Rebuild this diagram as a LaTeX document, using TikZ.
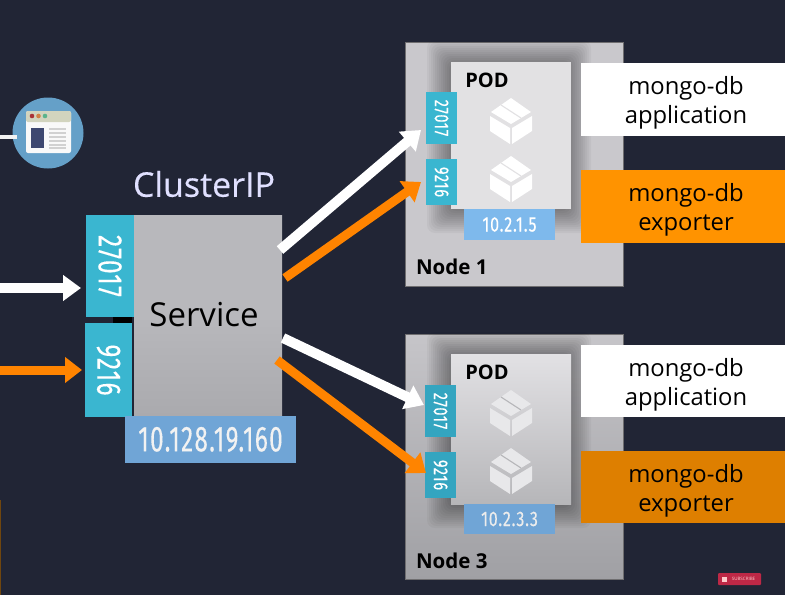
\documentclass[tikz,border=0pt]{standalone}
\usepackage{fontspec}
\usetikzlibrary{arrows.meta,calc}
\setmainfont{Open Sans}
\newfontfamily\condfont[LetterSpace=5,FakeBold=0.3]{Fira Sans}
\newfontfamily\cipfont[FakeBold=0.3]{Open Sans}
\definecolor{bgc}{RGB}{33,37,53}
\definecolor{nodec}{RGB}{201,200,204}
\definecolor{nodet}{RGB}{198,197,201}
\definecolor{noded}{RGB}{160,160,164}
\definecolor{podc}{RGB}{226,225,227}
\definecolor{podt}{RGB}{226,225,228}
\definecolor{podd}{RGB}{182,182,185}
\definecolor{cubeg}{RGB}{232,232,234}
\definecolor{portc}{RGB}{58,182,208}
\definecolor{portd}{RGB}{52,165,192}
\definecolor{ipc}{RGB}{126,185,236}
\definecolor{ipd}{RGB}{112,165,214}
\definecolor{svcc}{RGB}{184,184,188}
\definecolor{svcd}{RGB}{170,170,174}
\definecolor{orangea}{RGB}{255,147,0}
\definecolor{orangeb}{RGB}{222,127,0}
\definecolor{inko}{RGB}{255,132,0}
\definecolor{iconc}{RGB}{101,160,200}
\definecolor{bartop}{RGB}{210,212,190}
\definecolor{dota}{RGB}{170,50,55}
\definecolor{dotb}{RGB}{210,130,70}
\definecolor{dotc}{RGB}{90,180,140}
\definecolor{panel}{RGB}{62,72,112}
\definecolor{stripc}{RGB}{112,70,14}
\definecolor{subc}{RGB}{190,40,70}
\newcommand{\cond}[2]{\scalebox{#1}[1]{#2}}
\newcommand{\lbl}[2]{\hspace*{6pt}\parbox[c]{198pt}{\centering\vspace*{7pt}#1\\#2}}
\newcommand{\podshadow}[4]{%
  \foreach \g in {24,22,...,2}{
    \fill[black,opacity=.035,rounded corners=8pt] (#1-\g,#2-\g+2) rectangle (#3+\g-4,#4+\g);
  }}
\tikzset{
  x=1pt,y=-1pt,
  rect/.style={rectangle,inner sep=0pt,outer sep=0pt},
  worker/.style={rect,draw=black!45!nodec,line width=.6pt},
  port/.style={rect,text=white,font=\condfont},
  ipbox/.style={rect,text=white,font=\condfont},
  label/.style={rect,font=\fontsize{23.8}{29}\selectfont,text=black},
  whitearrow/.style={draw=white,line width=10pt,-{Triangle[width=25pt,length=18pt,fill=white]}},
  orangearrow/.style={draw=inko,line width=9pt,-{Triangle[width=25pt,length=17pt,fill=inko]}},
  pics/cube/.style 2 args={code={
    \fill[#1] (0,-23)--(20,-9)--(0,3)--(-20,-9)--cycle;
    \draw[#2,line width=1.1pt] (-10,-16)--(10,-3);
    \fill[#1] (-21,-5)--(-1,7)--(-1,23)--(-21,10)--cycle;
    \fill[#1] (1,7)--(21,-5)--(21,10)--(1,23)--cycle;
  }}
}
\begin{document}
\begin{tikzpicture}
\useasboundingbox (0,0) rectangle (785,595);
\fill[bgc] (0,0) rectangle (785,595);
\fill[stripc] (0,500) rectangle (1.2,595);

% Worker node 1
\node[worker,fill=nodec,minimum width=218pt,minimum height=244pt] (node1) at (514,164) {};
\podshadow{451}{62}{571}{209}
\node[rect,fill=podc,minimum width=120pt,minimum height=147pt] (pod1) at (511,135.5) {};
\node[rect,font=\fontsize{20}{22}\selectfont\bfseries] (podt1) at (487,80) {POD};
\pic at (511,121) {cube={white}{podc}};
\pic at (511,179) {cube={white}{podc}};
\node[port,fill=portc,minimum width=31pt,minimum height=52pt] (p1a) at (441.5,118) {\rotatebox{-90}{\fontsize{20}{21}\selectfont\cond{.72}{27017}}};
\node[port,fill=portc,minimum width=31pt,minimum height=46pt] (p1b) at (441.5,182) {\rotatebox{-90}{\fontsize{20}{21}\selectfont\cond{.72}{9216}}};
\node[ipbox,fill=ipc,minimum width=91pt,minimum height=31pt] (ip1) at (509.5,224.5) {\fontsize{21}{23}\selectfont\cond{.76}{10.2.1.5}};
\node[rect,anchor=west,font=\fontsize{20.5}{22}\selectfont\bfseries] (n1t) at (416,267) {Node 1};
\node[label,fill=white,minimum width=204pt,minimum height=73pt] (app1) at (683,99.5) {\lbl{mongo-db}{application}};
\node[label,fill=orangea,minimum width=204pt,minimum height=73pt] (exp1) at (683,206.5) {\lbl{mongo-db}{exporter}};

% Worker node 3
\node[worker,top color=nodet,bottom color=noded,minimum width=218pt,minimum height=245pt] (node3) at (514,456.5) {};
\podshadow{451}{354}{571}{504}
\node[rect,top color=podt,bottom color=podd,minimum width=120pt,minimum height=150pt] (pod3) at (511,429) {};
\node[rect,font=\fontsize{20}{22}\selectfont\bfseries] (podt3) at (487,372) {POD};
\pic at (511,413) {cube={cubeg}{podd}};
\pic at (511,471) {cube={cubeg}{podd}};
\node[port,fill=portd,minimum width=31pt,minimum height=52pt] (p3a) at (440.5,411) {\rotatebox{-90}{\fontsize{20}{21}\selectfont\cond{.72}{27017}}};
\node[port,fill=portd,minimum width=31pt,minimum height=46pt] (p3b) at (440.5,475) {\rotatebox{-90}{\fontsize{20}{21}\selectfont\cond{.72}{9216}}};
\node[ipbox,fill=ipd,text=white!85!gray,minimum width=91pt,minimum height=30pt] (ip3) at (509.5,519) {\fontsize{21}{23}\selectfont\cond{.76}{10.2.3.3}};
\node[rect,anchor=west,font=\fontsize{20.5}{22}\selectfont\bfseries] (n3t) at (416,561) {Node 3};
\node[label,fill=white,minimum width=204pt,minimum height=72pt] (app3) at (683,381) {\lbl{mongo-db}{application}};
\node[label,fill=orangeb,minimum width=204pt,minimum height=72pt] (exp3) at (683,487) {\lbl{mongo-db}{exporter}};

% Service
\node[rect,top color=svcc,bottom color=svcd,middle color=svcc,minimum width=148pt,minimum height=201pt] (svc) at (208,315.5) {};
\node[rect,font=\fontsize{33}{38}\selectfont,text=black] (svct) at (204,315) {Service};
\fill[black] (113,317) rectangle (132,323);
\node[port,fill=portc,minimum width=48pt,minimum height=102pt] (s1) at (110,266) {\rotatebox{-90}{\fontsize{34}{36}\selectfont\cond{.72}{27017}}};
\node[port,fill=portc,minimum width=47pt,minimum height=94pt] (s2) at (108.5,370) {\rotatebox{-90}{\fontsize{34}{36}\selectfont\cond{.72}{9216}}};
\node[rect,fill=ipd,minimum width=171pt,minimum height=47pt,text=white!90!gray,font=\condfont\fontsize{36}{38}\selectfont] (sip) at (210.5,439.5) {\cond{.68}{10.128.19.160}};
\node[rect,font=\cipfont\fontsize{34}{38}\selectfont,text=white!88!blue] (cip) at (204,184) {ClusterIP};

% Arrows
\coordinate (ia) at (-2,288);
\coordinate (ib) at (-2,370);
\coordinate (ta) at (81,288);
\coordinate (tb) at (82,370);
\draw[whitearrow] (ia) -- (ta);
\draw[orangearrow] (ib) -- (tb);
\coordinate (o1a) at (280,250);
\coordinate (t1a) at (421,130);
\coordinate (o1b) at (285,278);
\coordinate (t1b) at (421,182);
\coordinate (o3a) at (283,338);
\coordinate (t3a) at (424,405);
\coordinate (o3b) at (277,360);
\coordinate (t3b) at (426,473);
\draw[whitearrow] (o1a) -- (t1a);
\draw[orangearrow] (o1b) -- (t1b);
\draw[whitearrow] (o3a) -- (t3a);
\draw[orangearrow] (o3b) -- (t3b);

% Browser icon
\node[circle,fill=iconc,minimum size=71pt,inner sep=0pt] (icon) at (48,133) {};
\coordinate (il) at (0,137);
\coordinate (ir) at (17,137);
\draw[white!90!gray,line width=3.5pt] (il) -- (ir);
\fill[white!95!gray,rounded corners=2pt] (26,111) rectangle (71,153);
\fill[bartop,rounded corners=2pt] (26,111) rectangle (71,122);
\fill[dota] (32,116) circle (2.3);
\fill[dotb] (38.5,116) circle (2.3);
\fill[dotc] (45,116) circle (2.3);
\fill[panel] (31,128) rectangle (44,148);
\foreach \yy in {129,133,137,141,145,148}{\fill[black!18] (49,\yy-.7) rectangle (66,\yy+.7);}

% Subscribe badge
\node[rect,fill=subc,rounded corners=1pt,minimum width=43pt,minimum height=12pt,text=white!80!red,font=\fontsize{4.5}{5}\selectfont] (sub) at (739.5,579) {\hspace{8pt}SUBSCRIBE};
\fill[white!80!red] (722,576.5) rectangle (727,581.5);
\end{tikzpicture}
\end{document}
